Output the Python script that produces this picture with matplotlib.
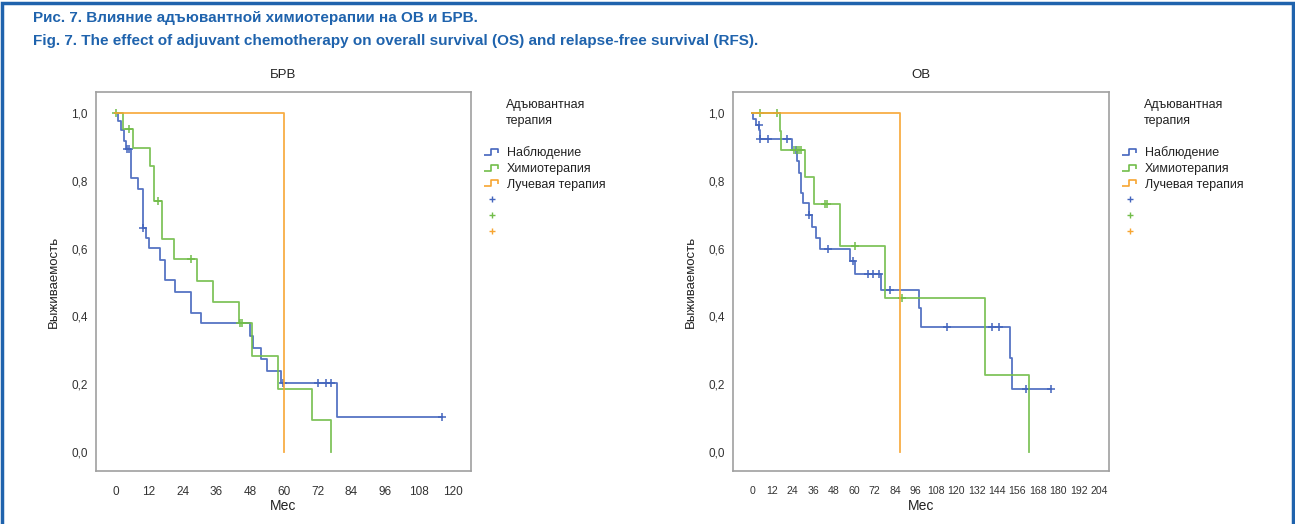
import numpy as np
import matplotlib
matplotlib.use("Agg")
import matplotlib.pyplot as plt
from matplotlib.lines import Line2D
from matplotlib.path import Path
from matplotlib.patches import Rectangle
from matplotlib.ticker import FuncFormatter

plt.rcParams['font.family'] = ['Liberation Sans', 'DejaVu Sans']

groups = ['Наблюдение', 'Химиотерапия', 'Лучевая терапия']
colors = ['#4465bd', '#72bd4a', '#f7a531']

# БРВ (relapse-free survival): step times, survival after each step, last follow-up, censored times
rfs_obs_t = [0, 1.0, 2.1, 3.0, 3.8, 5.7, 8.1, 9.7, 11.0, 12.1, 16.0, 17.8, 21.1, 27.0, 30.6,
             47.8, 48.9, 52.0, 54.0, 59.0, 78.9]
rfs_obs_s = [1.0, 0.976, 0.949, 0.917, 0.893, 0.807, 0.775, 0.662, 0.630, 0.601, 0.566, 0.506,
             0.473, 0.411, 0.381, 0.342, 0.308, 0.275, 0.239, 0.204, 0.103]
rfs_obs_end = 116.3
rfs_obs_cens = [4.3, 4.9, 9.9, 59.5, 72.0, 75.0, 76.8, 116.3]

rfs_chemo_t = [0, 2.6, 6.2, 12.2, 13.6, 16.6, 21.0, 28.9, 34.8, 43.9, 48.8, 57.8, 70.0, 76.9]
rfs_chemo_s = [1.0, 0.952, 0.898, 0.844, 0.740, 0.627, 0.568, 0.504, 0.443, 0.381, 0.284,
               0.187, 0.095, 0.0]
rfs_chemo_end = 76.9
rfs_chemo_cens = [0.3, 5.0, 15.2, 26.9, 44.5, 45.1]

rfs_rad_t = [0, 60.0]
rfs_rad_s = [1.0, 0.0]
rfs_rad_end = 60.0
rfs_rad_cens = []

# ОВ (overall survival)
os_obs_t = [0, 0.5, 2.5, 4.0, 4.5, 23.5, 26.5, 27.5, 29.0, 30.0, 33.5, 35.3, 37.9, 40.2, 57.4,
            60.4, 76.1, 98.2, 99.6, 151.9, 153.1]
os_obs_s = [1.0, 0.981, 0.965, 0.949, 0.922, 0.890, 0.858, 0.824, 0.765, 0.735, 0.698, 0.664,
            0.632, 0.598, 0.563, 0.524, 0.477, 0.426, 0.369, 0.278, 0.187]
os_obs_end = 176.0
os_obs_cens = [3.9, 4.6, 9.4, 20.8, 26.1, 33.7, 44.7, 59.4, 68.2, 71.1, 74.5, 81.0, 114.9,
               141.1, 145.2, 160.9, 176.0]

os_chemo_t = [0, 16.3, 17.3, 31.0, 36.3, 51.6, 78.0, 136.8, 162.7]
os_chemo_s = [1.0, 0.947, 0.890, 0.811, 0.731, 0.608, 0.453, 0.226, 0.0]
os_chemo_end = 162.7
os_chemo_cens = [4.9, 14.9, 24.5, 26.5, 27.5, 28.5, 43.1, 44.3, 60.8, 88.4]

os_rad_t = [0, 87.0]
os_rad_s = [1.0, 0.0]
os_rad_end = 87.0
os_rad_cens = []

rfs = [(rfs_obs_t, rfs_obs_s, rfs_obs_end, rfs_obs_cens),
       (rfs_chemo_t, rfs_chemo_s, rfs_chemo_end, rfs_chemo_cens),
       (rfs_rad_t, rfs_rad_s, rfs_rad_end, rfs_rad_cens)]
os_ = [(os_obs_t, os_obs_s, os_obs_end, os_obs_cens),
       (os_chemo_t, os_chemo_s, os_chemo_end, os_chemo_cens),
       (os_rad_t, os_rad_s, os_rad_end, os_rad_cens)]

rfs_ticks = list(range(0, 121, 12))
os_ticks = list(range(0, 205, 12))
y_ticks = [0.0, 0.2, 0.4, 0.6, 0.8, 1.0]

W, H = 1295, 524
fig = plt.figure(figsize=(W / 100, H / 100), dpi=100)

# blue frame and caption
fig.add_artist(Rectangle((2 / W, -0.01), (W - 4) / W, 1 - 3 / H + 0.01, transform=fig.transFigure,
                         fill=False, edgecolor='#1f63ad', linewidth=2.5))
cap = dict(color='#1f63ad', fontweight='bold', fontsize=11, va='center', ha='left')
fig.text(33 / W, 1 - 18 / H, 'Рис. 7. Влияние адъювантной химиотерапии на ОВ и БРВ.', **cap)
fig.text(33 / W, 1 - 41 / H, 'Fig. 7. The effect of adjuvant chemotherapy on overall survival (OS) '
         'and relapse-free survival (RFS).', **cap)

step_marker = Path([(-1.0, -0.45), (-0.15, -0.45), (-0.15, 0.45), (0.75, 0.45), (0.75, -0.1)])


def km_panel(ax, curves, ticks, xlim, title, xsize):
    for (t, s, end, cens), c in zip(curves, colors):
        t = np.asarray(t, float)
        s = np.asarray(s, float)
        x = np.r_[t, end]
        y = np.r_[s, s[-1]]
        ax.step(x, y, where='post', color=c, lw=1.3, alpha=0.9)
        if cens:
            cens = np.asarray(cens, float)
            idx = np.searchsorted(t, cens, side='right') - 1
            ax.plot(cens, s[idx], '+', color=c, ms=6, mew=1.1)
    ax.set_xlim(*xlim)
    ax.set_ylim(-0.056, 1.062)
    ax.set_xticks(ticks)
    ax.set_yticks(y_ticks)
    ax.yaxis.set_major_formatter(FuncFormatter(lambda v, p: f'{v:.1f}'.replace('.', ',')))
    ax.tick_params(length=0, labelsize=8.5, labelcolor='#333333')
    ax.tick_params(axis='x', pad=11, labelsize=xsize)
    ax.tick_params(axis='y', pad=6)
    for sp in ax.spines.values():
        sp.set_color('#a0a0a0')
        sp.set_linewidth(1.2)
    ax.set_title(title, fontsize=9.5, color='#222222', pad=10)
    ax.set_xlabel('Мес', fontsize=10, color='#222222', va='center')
    ax.xaxis.set_label_coords(0.5, -0.093)
    ax.set_ylabel('Выживаемость', fontsize=9.5, color='#222222', labelpad=8)

    ax.text(1.093, 0.982, 'Адъювантная\nтерапия', transform=ax.transAxes, fontsize=9,
            va='top', ha='left', color='#222222', linespacing=1.45)
    handles = [Line2D([], [], marker=step_marker, ls='none', color=c, ms=11, mew=1.2,
                      fillstyle='none') for c in colors]
    handles += [Line2D([], [], marker='+', ls='none', color=c, ms=5, mew=1.0) for c in colors]
    labels = groups + ['', '', '']
    leg = ax.legend(handles, labels, loc='upper left', bbox_to_anchor=(1.037, 0.857),
                    frameon=False, fontsize=9, handlelength=1.2, handletextpad=0.55,
                    labelspacing=0.3, borderaxespad=0, borderpad=0)
    for txt in leg.get_texts():
        txt.set_color('#222222')


ax1 = fig.add_axes([96 / W, 53 / H, 375 / W, 379 / H])
ax2 = fig.add_axes([733 / W, 53 / H, 376 / W, 379 / H])
km_panel(ax1, rfs, rfs_ticks, (-6.9, 126.6), 'БРВ', 8.5)
km_panel(ax2, os_, os_ticks, (-11.2, 209.9), 'ОВ', 7.6)

fig.savefig('out.png', dpi=100)
